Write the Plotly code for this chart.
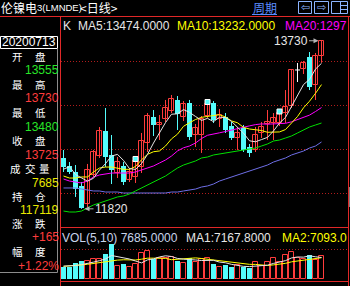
import plotly.graph_objects as go

# ---------------- data ----------------
dates_label = "20200713"
opens = [12398, 12307, 12239, 12080, 11875, 12205, 12420, 12705, 12432, 12227, 12307, 12148, 12182, 12295,
         12568, 12864, 12773, 12841, 12932, 13057, 12864, 13023, 12659, 12659, 12875, 13023, 12841, 12864,
         12761, 12625, 12739, 12523, 12489, 12682, 12784, 12795, 12795, 12909, 12989, 13398, 13409, 13545,
         13227, 13555]
highs = [12489, 12352, 12318, 12125, 12330, 12489, 12750, 12966, 12659, 12409, 12352, 12284, 12409, 12682,
         12909, 12943, 12886, 13057, 13114, 13102, 13045, 13057, 12784, 12875, 13057, 13045, 12955, 12909,
         12807, 12750, 12773, 12557, 12750, 12807, 12943, 12909, 12943, 13170, 13398, 13477, 13500, 13602,
         13591, 13730]
lows = [12239, 12216, 11955, 11820, 11841, 12182, 12398, 12295, 12102, 12170, 12091, 12125, 12114, 12227,
        12466, 12648, 12602, 12807, 12909, 12716, 12818, 12602, 12523, 12455, 12852, 12795, 12750, 12682,
        12602, 12489, 12466, 12409, 12466, 12625, 12602, 12602, 12761, 12795, 12966, 13261, 13352, 13170,
        13057, 13480]
closes = [12295, 12239, 12045, 11830, 12261, 12466, 12705, 12409, 12261, 12352, 12125, 12239, 12364, 12591,
          12875, 12773, 12795, 12966, 13068, 12898, 13011, 12636, 12739, 12841, 13011, 12830, 12886, 12716,
          12625, 12682, 12489, 12455, 12659, 12750, 12807, 12852, 12909, 12977, 13398, 13398, 13477, 13205,
          13560, 13725]
volumes = [3900, 4100, 5450, 6000, 6000, 6570, 6570, 8350, 11700, 4350, 5000, 3900, 5000, 8600, 9350, 6680,
           7130, 6900, 7460, 6120, 5450, 6900, 5790, 6570, 6900, 5000, 3900, 4680, 3900, 4680, 3900, 3560,
           5560, 4450, 5540, 6880, 5771, 8000, 8900, 7150, 6600, 7950, 6454, 7685]
ma5 = [12270, 12300, 12210, 12170, 12134, 12168, 12261, 12334, 12420, 12439, 12370, 12277, 12268, 12334,
       12439, 12568, 12680, 12800, 12895, 12900, 12948, 12916, 12870, 12825, 12848, 12811, 12861, 12857,
       12814, 12748, 12680, 12593, 12582, 12607, 12632, 12705, 12795, 12859, 12989, 13107, 13232, 13291,
       13408, 13474]
ma10 = [12193, 12170, 12170, 12182, 12182, 12239, 12284, 12295, 12295, 12286, 12269, 12269, 12301, 12377,
        12439, 12469, 12478, 12534, 12615, 12669, 12758, 12798, 12835, 12860, 12874, 12880, 12889, 12864,
        12819, 12798, 12746, 12727, 12719, 12710, 12690, 12692, 12694, 12721, 12798, 12869, 12968, 13043,
        13133, 13232]
ma20 = [12159, 12136, 12125, 12114, 12136, 12182, 12205, 12216, 12227, 12227, 12227, 12227, 12239, 12261,
        12284, 12307, 12341, 12375, 12420, 12478, 12514, 12534, 12568, 12619, 12656, 12674, 12684, 12699,
        12717, 12734, 12752, 12763, 12777, 12785, 12782, 12786, 12792, 12792, 12809, 12834, 12857, 12885,
        12926, 12971]
ma60 = [11795, 11784, 11784, 11795, 11830, 11864, 11886, 11909, 11932, 11955, 11966, 11989, 12023, 12057,
        12091, 12125, 12159, 12193, 12239, 12284, 12318, 12341, 12364, 12398, 12409, 12432, 12443, 12455,
        12466, 12477, 12489, 12500, 12511, 12534, 12557, 12591, 12602, 12625, 12648, 12682, 12716, 12750,
        12773, 12795]
ma120 = [12057, 12057, 12057, 12045, 12034, 12023, 12023, 12011, 12011, 12011, 12000, 12000, 12000, 12000,
         12000, 12000, 12000, 12000, 12011, 12011, 12023, 12034, 12045, 12068, 12080, 12102, 12136, 12159,
         12182, 12205, 12227, 12250, 12273, 12295, 12318, 12352, 12375, 12398, 12432, 12455, 12477, 12511,
         12534, 12580]
vol_ma1 = [4300, 4300, 4500, 4800, 5090, 5624, 6118, 6698, 7838, 7508, 7194, 6660, 5990, 5370, 6370, 6706,
           7352, 7732, 7504, 6858, 6612, 6566, 6344, 6166, 6322, 6232, 5632, 5410, 4876, 4432, 4212, 4144,
           4320, 4430, 4602, 5198, 5640, 6128, 7018, 7340, 7284, 7720, 7411, 7167.8]
vol_ma2 = [4200, 4300, 4500, 4700, 4900, 5200, 5500, 5800, 6150, 6299, 6409, 6389, 6344, 6604, 6939, 6950,
           7006, 6861, 6437, 6614, 6659, 6959, 7038, 6835, 6590, 6422, 6099, 5877, 5521, 5377, 5222, 4888,
           4865, 4653, 4517, 4705, 4892, 5224, 5724, 5971, 6241, 6680, 6770, 7093]
signal_idx = [12, 24, 36]
price_grid = [12000, 12500, 13000, 13500]
vol_grid = [10000]
open_interest = 117119
change = 165
change_pct = 1.22

# ---------------- helpers ----------------
W, H = 350, 286
def px(x): return x / W
def py(y): return 1 - y / H

STEP, C0 = 6.0, 63.5
X0, X1 = 61, 348
xr = [(X0 - C0) / STEP, (X1 - C0) / STEP]
def price_at(y): return 13500 - (y - 61) * 500 / 44
def vol_at(y): return (279 - y) * 10000 / 30
yr = [price_at(228), price_at(17)]
yr2 = [vol_at(282), vol_at(228)]

UP = '#ff3c3c'; DN = '#54fcfc'; DOJI = '#ffffff'
RED = '#e02828'; GRID = '#b01c1c'
LAT = 'Liberation Sans, Arial, sans-serif'
CJK = 'Noto Sans CJK SC, sans-serif'

n = len(closes)
idx = list(range(n))
up_i = [i for i in idx if closes[i] > opens[i]]
dn_i = [i for i in idx if closes[i] < opens[i]]
dj_i = [i for i in idx if closes[i] == opens[i]]

fig = go.Figure()

def wick_trace(ids, color):
    xs, ys = [], []
    for i in ids:
        xs += [i, i, None]
        ys += [highs[i], lows[i], None]
    return go.Scatter(x=xs, y=ys, mode='lines', line=dict(color=color, width=1),
                      hoverinfo='skip', xaxis='x', yaxis='y')

fig.add_trace(wick_trace(up_i, UP))
fig.add_trace(wick_trace(dn_i, DN))
fig.add_trace(wick_trace(dj_i, DOJI))

fig.add_trace(go.Bar(x=up_i, base=[opens[i] for i in up_i], y=[closes[i] - opens[i] for i in up_i],
                     width=0.68, marker=dict(color='black', line=dict(color=UP, width=1)),
                     hoverinfo='skip', xaxis='x', yaxis='y'))
fig.add_trace(go.Bar(x=dn_i, base=[closes[i] for i in dn_i], y=[opens[i] - closes[i] for i in dn_i],
                     width=0.84, marker=dict(color=DN, line=dict(width=0)),
                     hoverinfo='skip', xaxis='x', yaxis='y'))
dxs, dys = [], []
for i in dj_i:
    dxs += [i - 0.42, i + 0.42, None]
    dys += [opens[i], opens[i], None]
fig.add_trace(go.Scatter(x=dxs, y=dys, mode='lines', line=dict(color=DOJI, width=1),
                         hoverinfo='skip', xaxis='x', yaxis='y'))

for arr, col in [(ma120, '#6e6ee6'), (ma60, '#00e000'), (ma20, '#ff00ff'), (ma10, '#ffff00'), (ma5, '#e6e6e6')]:
    fig.add_trace(go.Scatter(x=idx, y=arr, mode='lines', line=dict(color=col, width=1),
                             hoverinfo='skip', xaxis='x', yaxis='y'))

fig.add_trace(go.Scatter(x=signal_idx, y=[(highs[i] + closes[i]) / 2 for i in signal_idx], mode='markers',
                         marker=dict(symbol='square', size=5, color=DN, line=dict(color='white', width=1)),
                         hoverinfo='skip', xaxis='x', yaxis='y'))

vup = [i for i in idx if closes[i] >= opens[i]]
vdn = [i for i in idx if closes[i] < opens[i]]
fig.add_trace(go.Bar(x=vup, y=[volumes[i] for i in vup], base=0, width=0.68,
                     marker=dict(color='black', line=dict(color=UP, width=1)),
                     hoverinfo='skip', xaxis='x2', yaxis='y2'))
fig.add_trace(go.Bar(x=vdn, y=[volumes[i] for i in vdn], base=0, width=0.84,
                     marker=dict(color=DN, line=dict(width=0)),
                     hoverinfo='skip', xaxis='x2', yaxis='y2'))
fig.add_trace(go.Scatter(x=idx, y=vol_ma2, mode='lines', line=dict(color='#ffff00', width=1),
                         hoverinfo='skip', xaxis='x2', yaxis='y2'))
fig.add_trace(go.Scatter(x=idx, y=vol_ma1, mode='lines', line=dict(color='#e6e6e6', width=1),
                         hoverinfo='skip', xaxis='x2', yaxis='y2'))

# ---------------- shapes ----------------
shapes = []
def hline(y, x0, x1, color, w=1):
    shapes.append(dict(type='line', xref='paper', yref='paper', x0=px(x0), x1=px(x1), y0=py(y), y1=py(y),
                       line=dict(color=color, width=w)))
def vline(x, y0, y1, color, w=1):
    shapes.append(dict(type='line', xref='paper', yref='paper', x0=px(x), x1=px(x), y0=py(y0), y1=py(y1),
                       line=dict(color=color, width=w)))
def rect(x0, y0, x1, y1, line=None, fill=None):
    shapes.append(dict(type='rect', xref='paper', yref='paper', x0=px(x0), x1=px(x1), y0=py(y1), y1=py(y0),
                       line=dict(color=line or 'rgba(0,0,0,0)', width=1 if line else 0),
                       fillcolor=fill or 'rgba(0,0,0,0)'))

hline(16.5, 0, 350, RED)
vline(60.5, 16.5, 286, RED)
vline(348.5, 16.5, 286, RED)
hline(227.5, 60.5, 348.5, RED)
hline(281.5, 60.5, 348.5, RED)
rect(0.5, 36.5, 57.5, 48.5, line='#ffffff')
vline(57.5, 48.5, 272.5, '#8c8c8c')
hline(272.5, 0, 57.5, '#8c8c8c')
rect(349, 187, 350, 207, fill='#808080')
ICON = '#8cb4ff'
rect(298.5, 1.5, 311.5, 13.5, line=ICON)
rect(314.5, 1.5, 328.5, 13.5, line=ICON)
rect(331.5, 1.5, 347.5, 13.5, line=ICON)
vline(340.5, 1.5, 13.5, ICON)
hline(5.5, 340.5, 347.5, ICON)
hline(9.5, 340.5, 347.5, ICON)
hline(14.5, 252, 277, '#5a8cff')

# ---------------- annotations ----------------
ann = []
def txt(x, y, s, color, size=12, family=LAT, anchor='left'):
    ann.append(dict(x=px(x), y=py(y), xref='paper', yref='paper', text=s, showarrow=False,
                    xanchor=anchor, yanchor='middle', borderpad=0, borderwidth=0,
                    font=dict(family=family, size=size, color=color)))

txt(0.5, 7, '伦镍电', '#ffffff', 12, CJK)
txt(37, 7.5, '3(LMNDE)', '#ffffff', 9.5, LAT)
txt(80, 7, '&lt;日线&gt;', '#ffffff', 12, CJK)
txt(264.5, 7, '周期', '#5a8cff', 12, CJK, 'center')
txt(305, 7, '⇦', ICON, 11, 'DejaVu Sans', 'center')
txt(321.5, 7, '⇨', ICON, 11, 'DejaVu Sans', 'center')

txt(63, 26, 'K', '#e6e6e6', 12)
txt(78, 26, f'MA5:{ma5[-1]:.4f}', '#e6e6e6', 12)
txt(177, 26, f'MA10:{ma10[-1]:.4f}', '#ffff00', 12)
txt(285, 26, f'MA20:{ma20[-1]:.4f}'[:9], '#ff00ff', 12)

txt(29, 42.5, dates_label, '#ffffff', 12, LAT, 'center')
GREEN = '#28e628'; VRED = '#ff3c3c'; YEL = '#e8e800'
CJS = 10.5
rows2 = [('开', '盘', 56.5), ('最', '高', 84.5), ('最', '低', 112.5), ('收', '盘', 140.5),
         ('持', '仓', 196), ('涨', '跌', 223), ('幅', '度', 251.5)]
for a, b, y in rows2:
    txt(17.5, y, a, '#ffffff', CJS, CJK, 'center')
    txt(40.5, y, b, '#ffffff', CJS, CJK, 'center')
for ch, cx in zip('成交量', [15, 30, 45]):
    txt(cx, 168.5, ch, '#ffffff', CJS, CJK, 'center')

last = n - 1
vals = [(f'{opens[last]}', 70.5, GREEN if opens[last] < closes[last - 1] else VRED),
        (f'{highs[last]}', 98.5, VRED),
        (f'{lows[last]}', 126.5, GREEN),
        (f'{closes[last]}', 154.5, VRED),
        (f'{volumes[last]}', 182.5, YEL),
        (f'{open_interest}', 209.5, YEL),
        (f'+{change}', 237, VRED),
        (f'+{change_pct:.2f}%', 265.5, VRED)]
for s, y, c in vals:
    txt(58.5, y, s, c, 12, LAT, 'right')

txt(62, 238, f'VOL(5,10) {volumes[-1]:.4f}', '#c8d4ea', 12)
txt(186, 238, f'MA1:{vol_ma1[-1]:.4f}', '#e6e6e6', 12)
txt(282, 238, f'MA2:{vol_ma2[-1]:.4f}'[:10], '#ffff00', 12)

hi_i = max(idx, key=lambda i: highs[i])
lo_i = min(idx, key=lambda i: lows[i])
ann.append(dict(x=hi_i - 0.5, y=highs[hi_i], xref='x', yref='y', text=f'{highs[hi_i]}', showarrow=True,
                ax=-28, ay=0, arrowcolor='#b4b4b4', arrowwidth=1, arrowhead=2, arrowsize=1, standoff=0,
                font=dict(family=LAT, size=12, color='#e6e6e6')))
ann.append(dict(x=lo_i + 0.5, y=lows[lo_i], xref='x', yref='y', text=f'{lows[lo_i]}', showarrow=True,
                ax=27, ay=0, arrowcolor='#b4b4b4', arrowwidth=1, arrowhead=2, arrowsize=1, standoff=0,
                font=dict(family=LAT, size=12, color='#e6e6e6')))

fig.update_layout(
    width=W, height=H, margin=dict(l=0, r=0, t=0, b=0, pad=0),
    paper_bgcolor='black', plot_bgcolor='black', showlegend=False,
    barmode='overlay', bargap=0, hovermode=False,
    xaxis=dict(domain=[px(X0), px(X1)], range=xr, visible=False, anchor='y'),
    yaxis=dict(domain=[py(228), py(17)], range=yr, anchor='x', showgrid=True, gridcolor=GRID,
               griddash='1px,2px', gridwidth=1, tickvals=price_grid, showticklabels=False,
               zeroline=False, showline=False, ticks=''),
    xaxis2=dict(domain=[px(X0), px(X1)], range=xr, visible=False, anchor='y2'),
    yaxis2=dict(domain=[py(282), py(228)], range=yr2, anchor='x2', showgrid=True, gridcolor=GRID,
                griddash='1px,2px', gridwidth=1, tickvals=vol_grid, showticklabels=False,
                zeroline=False, showline=False, ticks=''),
    shapes=shapes, annotations=ann,
)

fig.write_html('out.html', config={'displayModeBar': False})
